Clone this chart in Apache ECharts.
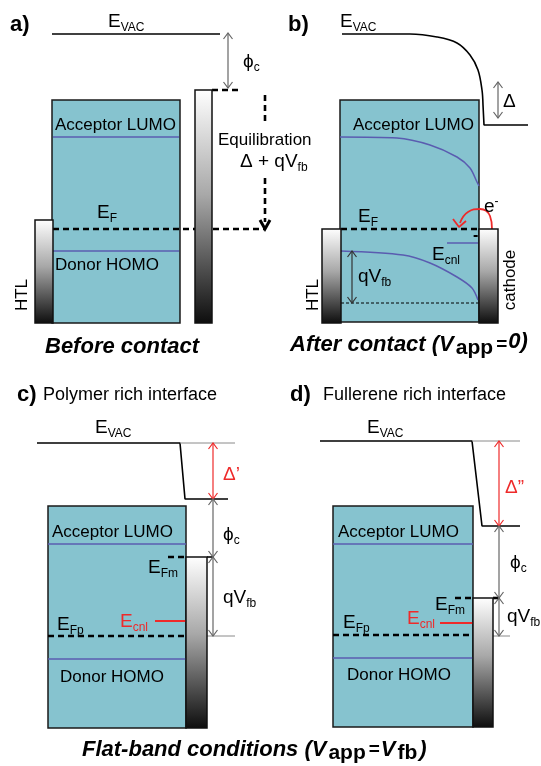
<!DOCTYPE html>
<html><head><meta charset="utf-8">
<script src="https://cdn.jsdelivr.net/npm/echarts@6/dist/echarts.min.js"></script>
<style>html,body{margin:0;padding:0;background:#fff}#c{width:541px;height:766px}</style>
</head><body><div id="c"></div>
<script>
// ---------- data (diagram coordinates: x across, y = energy, downward) ----------
const boxes = [[52,100,180,323],[340,100,479,322],[48,506,186,728],[333,506,473,727]];
const electrodes = [[35,220,53,323],[195,90,212,323],[322,229,341,323],[479,229,498,323],[186,557,207,728],[473,598,493,727]];

// panel a
const vacA = [[52,34],[220,34]];
const lumoA = [[53,137],[179,137]];
const homoA = [[53,251],[179,251]];
const efA = [[53,229],[265,229]];
const metalTopA = [[212,90],[240,90]];
const equilTop = [[265,95],[265,122]];
const equilBottom = [[265,178],[265,222]];
const equilHead = [[260,220],[265,229],[270,220]];
// panel b
const vacB = [[342,34],[410,34],[437,37],[457,43],[470,55],[478,70],[482,90],[483,105]];
const vacBStep = [[483,105],[484,125],[528,125]];
const lumoB = [[340,137],[397,138],[430,145],[457,157],[470,168],[477,182],[479,186]];
const homoB = [[341,251],[403,255],[430,263],[457,277],[472,288],[478,300]];
const efB = [[341,229],[479,229]];
const baseB = [[341,303],[479,303]];
const ecnlB = [[447,243],[478,243]];
const eArc = [[492,229],[490,216],[480,209],[468,212],[460,223]];
const eArcHead = [[453,219],[459,227],[466,221]];
// panel c
const vacC = [[37,443],[180,443],[185,499],[228,499]];
const refC = [[[180,443],[235,443]],[[207,636],[235,636]]];
const lumoC = [[48,544],[186,544]];
const homoC = [[48,659],[186,659]];
const efmC = [[168,557],[186,557]];
const efmTickC = [[207,557],[213,557]];
const efpC = [[48,636],[186,636]];
const ecnlC = [[155,621],[186,621]];
// panel d
const vacD = [[320,441],[472,441],[482,526],[520,526]];
const refD = [[[472,441],[520,441]],[[493,636],[510,636]]];
const lumoD = [[333,544],[473,544]];
const homoD = [[333,658],[473,658]];
const efmD = [[455,598],[473,598]];
const efmTickD = [[493,598],[499,598]];
const efpD = [[333,635],[473,635]];
const ecnlD = [[440,623],[473,623]];

// double-headed arrows: x, yTop, yBottom, colour kind (0 grey, 1 red, 2 dark)
const arrows = [[228,33,88,0],[498,82,118,0],[352,251,303,2],[213,443,499,1],[213,499,557,0],[213,557,636,0],[499,441,526,1],[499,526,598,0],[499,598,636,0]];

// labels: x, y, text, style
const labels = [
 [10,25,'a)','panel'],[288,25,'b)','panel'],[17,395,'c)','panel'],[290,395,'d)','panel'],
 [43,395,'Polymer rich interface','sub'],[323,395,'Fullerene rich interface','sub'],
 [108,22,'{m|E}{s|VAC}','e'],[340,22,'{m|E}{s|VAC}','e'],[95,428,'{m|E}{s|VAC}','e'],[367,428,'{m|E}{s|VAC}','e'],
 [243,62,'{m|ϕ}{s|c}','e'],[223,535,'{m|ϕ}{s|c}','e'],[510,563,'{m|ϕ}{s|c}','e'],
 [55,125,'Acceptor LUMO','lvl'],[353,125,'Acceptor LUMO','lvl'],[52,532,'Acceptor LUMO','lvl'],[338,532,'Acceptor LUMO','lvl'],
 [55,265,'Donor HOMO','lvl'],[60,677,'Donor HOMO','lvl'],[347,675,'Donor HOMO','lvl'],
 [97,213,'{m|E}{s|F}','e'],[358,217,'{m|E}{s|F}','e'],
 [218,140,'Equilibration','lvl'],[240,162,'{m|Δ + qV}{s|fb}','e'],
 [503,102,'{m|Δ}','e'],[484,207,'{m|e}{p|-}','e'],[473,236,'-','minus'],
 [432,255,'{m|E}{s|cnl}','e'],[358,277,'{m|qV}{s|fb}','e'],
 [22,295,'HTL','rot'],[313,295,'HTL','rot'],[510,280,'cathode','rot'],
 [45,347,'Before contact','title'],[290,345,'{t|After contact (V}{u|app}{q|=}{r|0)}','title'],
 [223,475,"{m|Δ’}",'red'],[505,488,"{m|Δ”}",'red'],
 [148,568,'{m|E}{s|Fm}','e'],[435,605,'{m|E}{s|Fm}','e'],
 [223,598,'{m|qV}{s|fb}','e'],[507,617,'{m|qV}{s|fb}','e'],
 [57,625,'{m|E}{s|Fp}','e'],[343,623,'{m|E}{s|Fp}','e'],
 [120,622,'{m|E}{s|cnl}','red'],[407,619,'{m|E}{s|cnl}','red'],
 [82,750,'{t|Flat-band conditions (V}{u|app}{q|=}{t|V}{u|fb}{t|)}','title']
];

// ---------- styles ----------
const FF = '"Liberation Sans", Arial, "DejaVu Sans", sans-serif';
const TEAL = '#86c3cf', PURPLE = '#5a5cb0', RED = '#ee2a2a';
const arrowColors = ['#666', RED, '#333'];
function richSet(big, small, color) {
  return {
    m: {fontSize: big, fontFamily: FF, fill: color, lineHeight: big + 4},
    s: {fontSize: small, fontFamily: FF, fill: color, lineHeight: small, verticalAlign: 'bottom'},
    p: {fontSize: small, fontFamily: FF, fill: color, lineHeight: small, verticalAlign: 'top'}
  };
}
function titleSet(big, small) {
  return {
    t: {fontSize: big, fontFamily: FF, fontWeight: 'bold', fontStyle: 'italic', fill: '#000', lineHeight: big + 6},
    r: {fontSize: big, fontFamily: FF, fontWeight: 'bold', fontStyle: 'italic', fill: '#000', lineHeight: big + 3, verticalAlign: 'top'},
    u: {fontSize: small, fontFamily: FF, fontWeight: 'bold', fill: '#000', lineHeight: small, verticalAlign: 'bottom', padding: [0, 2, 0, 2]},
    q: {fontSize: 19, fontFamily: FF, fontWeight: 'bold', fill: '#000', lineHeight: big + 6, padding: [0, 1, 0, 1]}
  };
}
const labelStyles = {
  panel: {font: 'bold 22px ' + FF, fill: '#000'},
  sub: {font: '18px ' + FF, fill: '#000'},
  lvl: {font: '17px ' + FF, fill: '#000'},
  minus: {font: 'bold 16px ' + FF, fill: '#000'},
  e: {font: '19px ' + FF, fill: '#000', rich: richSet(19, 12, '#000')},
  red: {font: '19px ' + FF, fill: RED, rich: richSet(19, 12, RED)},
  rot: {font: '17px ' + FF, fill: '#000', rot: true},
  title: {font: 'italic bold 22px ' + FF, fill: '#000', rich: titleSet(22, 21)}
};
const lineStyles = {
  solid: {color: '#000', width: 1.6},
  level: {color: PURPLE, width: 1.5},
  dash: {color: '#000', width: 2.6, type: [6, 4]},
  fine: {color: '#000', width: 1, type: [3, 2]},
  grey: {color: '#8a8a8a', width: 1},
  red: {color: RED, width: 2},
  redThin: {color: RED, width: 1.8}
};
const lineSpecs = [
  [vacA,'solid'],[lumoA,'level'],[homoA,'level'],[efA,'dash'],[metalTopA,'dash'],
  [equilTop,'dash'],[equilBottom,'dash'],
  [vacB,'solid',0.35],[vacBStep,'solid'],[lumoB,'level',0.3],[homoB,'level',0.3],[efB,'dash'],[baseB,'fine'],[ecnlB,'level'],
  [eArc,'redThin',0.5],[eArcHead,'redThin'],
  [vacC,'solid'],[refC[0],'grey'],[refC[1],'grey'],[lumoC,'level'],[homoC,'level'],[efmC,'dash'],[efmTickC,'solid'],[efpC,'dash'],[ecnlC,'red'],
  [vacD,'solid'],[refD[0],'grey'],[refD[1],'grey'],[lumoD,'level'],[homoD,'level'],[efmD,'dash'],[efmTickD,'dash'],[efpD,'dash'],[ecnlD,'red']
];

const series = [];
series.push({
  type: 'custom', z: 1, silent: true, data: boxes, encode: {x: [0, 2], y: [1, 3]},
  renderItem: (p, api) => {
    const a = api.coord([api.value(0), api.value(1)]), b = api.coord([api.value(2), api.value(3)]);
    return {type: 'rect', shape: {x: a[0], y: a[1], width: b[0] - a[0], height: b[1] - a[1]},
      style: {fill: TEAL, stroke: '#1a1a1a', lineWidth: 1.5}};
  }
});
lineSpecs.forEach(s => {
  const st = lineStyles[s[1]];
  series.push({type: 'line', z: 2, silent: true, data: s[0], symbol: 'none', smooth: s[2] || false,
    lineStyle: {color: st.color, width: st.width, type: st.type || 'solid', cap: 'butt'}});
});
series.push({type: 'line', z: 2, silent: true, data: equilHead, symbol: 'none',
  lineStyle: {color: '#000', width: 3, join: 'miter'}});
series.push({
  type: 'custom', z: 3, silent: true, data: electrodes, encode: {x: [0, 2], y: [1, 3]},
  renderItem: (p, api) => {
    const a = api.coord([api.value(0), api.value(1)]), b = api.coord([api.value(2), api.value(3)]);
    return {type: 'rect', shape: {x: a[0], y: a[1], width: b[0] - a[0], height: b[1] - a[1]},
      style: {fill: new echarts.graphic.LinearGradient(0, 0, 0, 1, [
        {offset: 0, color: '#ffffff'}, {offset: 0.45, color: '#a8a8a8'}, {offset: 1, color: '#0d0d0d'}]),
        stroke: '#111', lineWidth: 1.5}};
  }
});
series.push({
  type: 'custom', z: 4, silent: true, data: arrows, encode: {x: 0, y: [1, 2]},
  renderItem: (p, api) => {
    const t = api.coord([api.value(0), api.value(1)]), b = api.coord([api.value(0), api.value(2)]);
    const c = arrowColors[api.value(3)], w = 4.5, h = 6;
    const st = {stroke: c, lineWidth: 1.2, fill: null};
    return {type: 'group', children: [
      {type: 'line', shape: {x1: t[0], y1: t[1], x2: b[0], y2: b[1]}, style: st},
      {type: 'polyline', shape: {points: [[t[0] - w, t[1] + h], [t[0], t[1]], [t[0] + w, t[1] + h]]}, style: st},
      {type: 'polyline', shape: {points: [[b[0] - w, b[1] - h], [b[0], b[1]], [b[0] + w, b[1] - h]]}, style: st}
    ]};
  }
});
series.push({
  type: 'custom', z: 5, silent: true, data: labels.map(l => [l[0], l[1]]),
  renderItem: (p, api) => {
    const L = labels[p.dataIndex], S = labelStyles[L[3]];
    const pt = api.coord([api.value(0), api.value(1)]);
    const style = {text: L[2], font: S.font, fill: S.fill, align: S.rot ? 'center' : 'left', verticalAlign: 'middle'};
    if (S.rich) style.rich = S.rich;
    return {type: 'text', x: pt[0], y: pt[1], rotation: S.rot ? Math.PI / 2 : 0, style: style};
  }
});

const chart = echarts.init(document.getElementById('c'), null, {renderer: 'canvas'});
chart.setOption({
  animation: false,
  backgroundColor: '#fff',
  grid: {left: 0, right: 0, top: 0, bottom: 0},
  xAxis: {type: 'value', min: 0, max: 541, show: false},
  yAxis: {type: 'value', min: 0, max: 766, inverse: true, show: false},
  series: series
});
</script></body></html>
